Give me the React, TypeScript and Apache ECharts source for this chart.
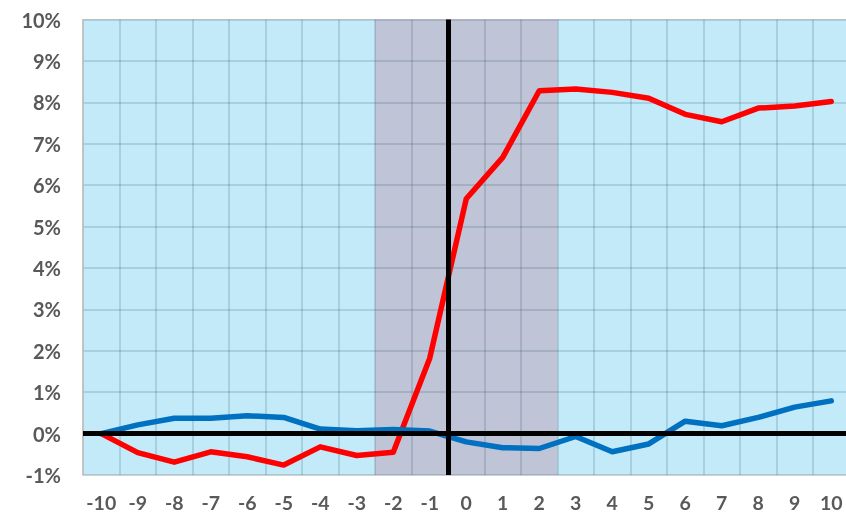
import React, { useEffect, useRef } from "react";
import * as echarts from "echarts";

const categories = ["-10","-9","-8","-7","-6","-5","-4","-3","-2","-1","0","1","2","3","4","5","6","7","8","9","10"];
const redValues = [0, -0.46, -0.69, -0.44, -0.56, -0.76, -0.32, -0.53, -0.45, 1.82, 5.67, 6.67, 8.28, 8.32, 8.24, 8.10, 7.71, 7.53, 7.86, 7.91, 8.02];
const blueValues = [0, 0.21, 0.37, 0.37, 0.43, 0.39, 0.11, 0.07, 0.10, 0.06, -0.20, -0.34, -0.36, -0.07, -0.44, -0.25, 0.30, 0.19, 0.39, 0.64, 0.79];
// shaded event window (band positions on a 0..21 scale) and event line
const shadeStart = 8;
const shadeEnd = 13;
const eventLine = 10;

export default function App() {
  const ref = useRef<HTMLDivElement>(null);
  useEffect(() => {
    document.body.style.margin = "0";
    document.body.style.overflow = "hidden";
    const chart = echarts.init(ref.current!, null, { renderer: "svg" });
    const font = "Lato, 'Noto Sans', sans-serif";
    chart.setOption({
      animation: false,
      grid: {
        left: 83, right: 0.5, top: 19.5, bottom: 40,
        show: true, backgroundColor: "#C2EAF9", borderColor: "#D9D9D9", borderWidth: 1,
      },
      xAxis: [
        {
          type: "category", data: categories, boundaryGap: true, z: 1.5,
          axisLine: { show: false }, axisTick: { show: false },
          axisLabel: { color: "#595959", fontWeight: "bold", fontSize: 19.5, lineHeight: 18, fontFamily: font, margin: 18, interval: 0 },
          splitLine: { show: true, interval: 0, lineStyle: { color: "rgba(0,50,70,0.14)", width: 2 } },
        },
        { type: "value", min: 0, max: 21, show: false },
      ],
      yAxis: {
        type: "value", min: -1, max: 10, interval: 1, z: 1.5,
        axisLine: { show: true, lineStyle: { color: "#C0C0C0", width: 1.5 } },
        axisTick: { show: false },
        axisLabel: { color: "#595959", fontWeight: "bold", fontSize: 20, fontFamily: font, margin: 22, formatter: (v: number) => v + "%" },
        splitLine: { show: true, lineStyle: { color: "rgba(0,50,70,0.14)", width: 2 } },
      },
      series: [
        {
          type: "line", xAxisIndex: 1, data: [], z: 1, silent: true,
          markArea: {
            silent: true,
            itemStyle: { color: "#BFC5D6" },
            data: [[{ xAxis: shadeStart }, { xAxis: shadeEnd }]],
          },
        },
        {
          type: "line", xAxisIndex: 1, data: [], z: 1.8, silent: true,
          markLine: {
            silent: true, symbol: "none", label: { show: false },
            lineStyle: { color: "#000000", width: 5, type: "solid" },
            data: [{ xAxis: eventLine }, { yAxis: 0 }],
          },
        },
        {
          type: "line", data: redValues, symbol: "none", z: 3,
          lineStyle: { color: "#FF0000", width: 5.5, cap: "round", join: "round" },
        },
        {
          type: "line", data: blueValues, symbol: "none", z: 3,
          lineStyle: { color: "#0070C0", width: 5.5, cap: "round", join: "round" },
        },
      ],
    });
    return () => chart.dispose();
  }, []);
  return <div ref={ref} style={{ position: "fixed", left: 0, top: 0, width: 850, height: 515 }} />;
}
